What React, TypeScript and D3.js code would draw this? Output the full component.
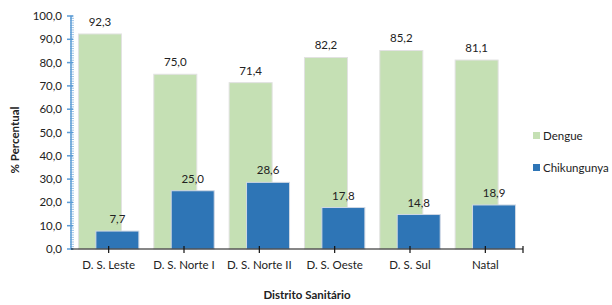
import React from "react";
import * as d3 from "d3";

const categories = ["D. S. Leste", "D. S. Norte I", "D. S. Norte II", "D. S. Oeste", "D. S. Sul", "Natal"];
const dengue = [92.3, 75.0, 71.4, 82.2, 85.2, 81.1];
const chikungunya = [7.7, 25.0, 28.6, 17.8, 14.8, 18.9];
const yTicks = [0, 10, 20, 30, 40, 50, 60, 70, 80, 90, 100];
const seriesNames = ["Dengue", "Chikungunya"];

const W = 612, H = 305;
const left = 71, right = 523, top = 16, bottom = 249;
const font = "Lato, 'Open Sans', sans-serif";
const fmt = (v: number) => v.toFixed(1).replace(".", ",");

export default function App() {
  const x = d3.scaleBand<string>().domain(categories).range([left, right]).padding(0);
  const y = d3.scaleLinear().domain([0, 100]).range([bottom, top]);
  const bw = 43;
  const off = 8.7;
  const minor = d3.range(0, 101, 1);
  const colors = ["#C5E0B4", "#2E75B6"];
  return (
    <svg width={W} height={H} style={{ position: "absolute", left: 0, top: 0, fontFamily: font }}>
      <rect width={W} height={H} fill="#fff" />
      {/* bars */}
      {categories.map((c, i) => {
        const cx = x(c)! + x.bandwidth() / 2;
        return (
          <g key={c}>
            <rect x={cx - off - bw / 2} y={y(dengue[i])} width={bw} height={bottom - y(dengue[i])} fill={colors[0]} stroke="#E2E2E2" strokeWidth={1} />
            <rect x={cx + off - bw / 2} y={y(chikungunya[i])} width={bw} height={bottom - y(chikungunya[i])} fill={colors[1]} stroke="#D0D8E4" strokeWidth={1} />
            <text x={cx - off} y={y(dengue[i]) - 8} textAnchor="middle" fontSize={11.5} fill="#222">{fmt(dengue[i])}</text>
            <text x={cx + off} y={y(chikungunya[i]) - 8} textAnchor="middle" fontSize={11.5} fill="#222">{fmt(chikungunya[i])}</text>
            <text x={cx} y={269} textAnchor="middle" fontSize={11.5} fill="#222">{c}</text>
          </g>
        );
      })}
      {/* y axis */}
      {minor.map((v) => (
        <line key={"m" + v} x1={left - 1} x2={left + 3} y1={y(v)} y2={y(v)} stroke="#9DC3E6" strokeWidth={1} />
      ))}
      <line x1={left} x2={left} y1={top} y2={bottom} stroke="#5B9BD5" strokeWidth={1.5} />
      {yTicks.map((v) => (
        <g key={"t" + v}>
          <line x1={left - 4} x2={left + 2} y1={y(v)} y2={y(v)} stroke="#5B9BD5" strokeWidth={1.5} />
          <text x={left - 9} y={y(v) + 4} textAnchor="end" fontSize={11.5} fill="#222">{fmt(v)}</text>
        </g>
      ))}
      {/* x axis */}
      <line x1={left} x2={right} y1={bottom} y2={bottom} stroke="#111" strokeWidth={1.2} />
      {categories.map((c) => {
        const cx = x(c)! + x.bandwidth() / 2;
        return <line key={"xt" + c} x1={cx} x2={cx} y1={bottom - 3} y2={bottom + 4} stroke="#111" strokeWidth={1.2} />;
      })}
      <line x1={right} x2={right} y1={bottom - 3} y2={bottom + 4} stroke="#111" strokeWidth={1.2} />
      {/* titles */}
      <text transform={`translate(19,140) rotate(-90)`} textAnchor="middle" fontSize={11.5} fontWeight="bold" fill="#222">% Percentual</text>
      <text x={307} y={299} textAnchor="middle" fontSize={11.5} fontWeight="bold" fill="#222">Distrito Sanitário</text>
      {/* legend */}
      {seriesNames.map((s, i) => (
        <g key={s} transform={`translate(533,${136 + i * 32})`}>
          <rect x={0} y={-4} width={7} height={7} fill={colors[i]} />
          <text x={10} y={4} fontSize={11.5} fill="#222">{s}</text>
        </g>
      ))}
    </svg>
  );
}
